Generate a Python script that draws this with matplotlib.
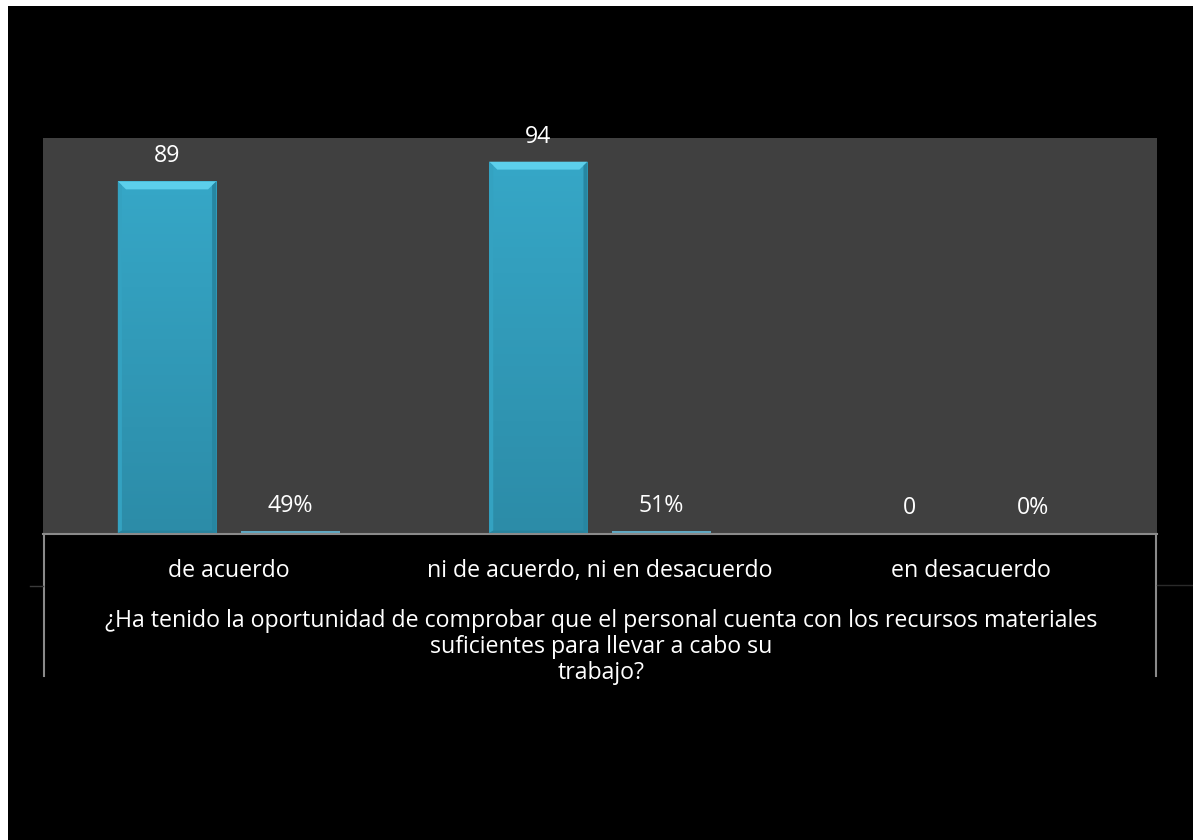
import matplotlib
matplotlib.use('Agg')

import numpy as np
import matplotlib.pyplot as plt
from matplotlib.patches import Rectangle, Polygon
from matplotlib.lines import Line2D
from matplotlib.colors import LinearSegmentedColormap

# --- datos ---
categorias = ['de acuerdo', 'ni de acuerdo, ni en desacuerdo', 'en desacuerdo']
frecuencia = [89, 94, 0]
porcentaje = [0.49, 0.51, 0.0]
etiquetas_frec = ['89', '94', '0']
etiquetas_pct = ['49%', '51%', '0%']
titulo = ['¿Ha tenido la oportunidad de comprobar que el personal cuenta con los recursos materiales',
          'suficientes para llevar a cabo su',
          'trabajo?']

plt.rcParams['font.family'] = ['Open Sans', 'DejaVu Sans']
FS = 16.7

W, H = 1193, 840
fig = plt.figure(figsize=(W / 100, H / 100), dpi=100)
fig.patch.set_facecolor('white')
# fondo negro (con el borde blanco arriba/izquierda)
fig.patches.append(Rectangle((8 / W, 0), 1 - 8 / W, 1 - 6 / H, transform=fig.transFigure,
                             facecolor='black', edgecolor='none', zorder=-10))

ax = fig.add_axes([43 / W, 307 / H, (1157 - 43) / W, (533 - 138) / H])
ax.set_facecolor('#404040')
ax.set_xlim(-0.5, 2.5)
ax.set_ylim(0, 100)
for s in ax.spines.values():
    s.set_visible(False)
ax.set_xticks([])
ax.set_yticks([])

cmap_barra = LinearSegmentedColormap.from_list('barra', ['#2c8ca8', '#36a7c7'])
ancho = 0.265
desp = 0.166
bx, by = 0.022, 2.0


def barra(x, h):
    x0, x1 = x - ancho / 2, x + ancho / 2
    if h <= 0:
        return
    if h < 2 * by:
        ax.add_patch(Rectangle((x0, 0), ancho, max(h, 0.6), facecolor='#5fa8c2',
                               edgecolor='none', zorder=3))
        return
    rect = Rectangle((x0, 0), ancho, h, facecolor='none', edgecolor='none', zorder=3)
    ax.add_patch(rect)
    grad = np.linspace(0, 1, 100).reshape(-1, 1)
    im = ax.imshow(grad, extent=(x0, x1, 0, h), origin='lower', cmap=cmap_barra,
                   aspect='auto', zorder=3)
    im.set_clip_path(rect)
    # biselado
    ax.add_patch(Polygon([(x0, h), (x1, h), (x1 - bx, h - by), (x0 + bx, h - by)],
                         facecolor='#5ccfeb', edgecolor='none', zorder=4))
    ax.add_patch(Polygon([(x0, 0), (x0, h), (x0 + bx * 0.5, h - by * 0.5), (x0 + bx * 0.5, by * 0.3)],
                         facecolor='#34a2c1', edgecolor='none', zorder=4))
    ax.add_patch(Polygon([(x1, 0), (x1, h), (x1 - bx * 0.5, h - by * 0.5), (x1 - bx * 0.5, by * 0.3)],
                         facecolor='#2786a1', edgecolor='none', zorder=4))
    ax.add_patch(Polygon([(x0, 0), (x1, 0), (x1 - bx * 0.5, by * 0.3), (x0 + bx * 0.5, by * 0.3)],
                         facecolor='#28839d', edgecolor='none', zorder=4))


pos = np.arange(len(categorias))
for i in pos:
    barra(i - desp, frecuencia[i])
    barra(i + desp, porcentaje[i])
    ax.annotate(etiquetas_frec[i], (i - desp, frecuencia[i]), xytext=(0, 18),
                textcoords='offset points', ha='center', va='center',
                color='white', fontsize=FS, annotation_clip=False)
    ax.annotate(etiquetas_pct[i], (i + desp, porcentaje[i]), xytext=(0, 18),
                textcoords='offset points', ha='center', va='center',
                color='white', fontsize=FS, annotation_clip=False)

# tabla de categorias debajo
gris = '#8a8a8a'
fig.add_artist(Line2D([43 / W, 1157 / W], [1 - 534 / H] * 2, color=gris, lw=1.5, transform=fig.transFigure))
fig.add_artist(Line2D([44 / W] * 2, [1 - 534 / H, 1 - 676 / H], color=gris, lw=1.5, transform=fig.transFigure))
fig.add_artist(Line2D([1156 / W] * 2, [1 - 534 / H, 1 - 676 / H], color=gris, lw=1.5, transform=fig.transFigure))
fig.add_artist(Line2D([30 / W, 43 / W], [1 - 586 / H] * 2, color='#3a3a3a', lw=1, transform=fig.transFigure))
fig.add_artist(Line2D([1157 / W, 1193 / W], [1 - 585 / H] * 2, color='#2a2a2a', lw=1, transform=fig.transFigure))

for i, c in enumerate(categorias):
    xc = (43 + (1157 - 43) * (i + 0.5) / len(categorias)) / W
    fig.text(xc, 1 - 571 / H, c, ha='center', va='center', color='white', fontsize=FS)

for k, linea in enumerate(titulo):
    fig.text(601 / W, 1 - (621 + 26 * k) / H, linea, ha='center', va='center',
             color='white', fontsize=FS)

fig.savefig('out.png', dpi=100, facecolor=fig.get_facecolor())
